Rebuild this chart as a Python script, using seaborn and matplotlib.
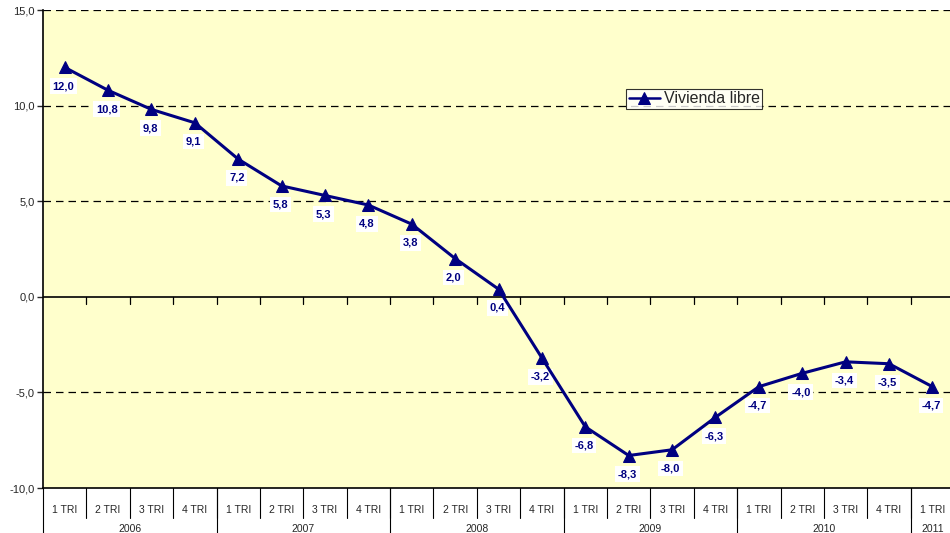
import numpy as np
import pandas as pd
import matplotlib
matplotlib.use("Agg")
import matplotlib.pyplot as plt
import seaborn as sns

# Data
quarters = ["1 TRI", "2 TRI", "3 TRI", "4 TRI"] * 5 + ["1 TRI"]
years = ["2006", "2007", "2008", "2009", "2010", "2011"]
year_counts = [4, 4, 4, 4, 4, 1]
values = [12.0, 10.8, 9.8, 9.1, 7.2, 5.8, 5.3, 4.8, 3.8, 2.0, 0.4, -3.2,
          -6.8, -8.3, -8.0, -6.3, -4.7, -4.0, -3.4, -3.5, -4.7]

df = pd.DataFrame({"pos": np.arange(len(values)), "valor": values})

sns.set_style("white")
plt.rcParams["font.family"] = ["Liberation Sans", "DejaVu Sans"]

navy = "#000080"
fig = plt.figure(figsize=(9.5, 5.33), dpi=100)
ax = fig.add_axes([0.0453, 0.0844, 0.959, 0.8968])
ax.set_facecolor("#FFFFCC")

sns.lineplot(data=df, x="pos", y="valor", ax=ax, color=navy, linewidth=2.2,
             marker="^", markersize=9, markeredgecolor=navy, label="Vivienda libre",
             zorder=3)

# data labels (drawn under the line)
for i, v in enumerate(values):
    ax.annotate(f"{v:.1f}".replace(".", ","), (i, v), xytext=(-1, -13.5),
                textcoords="offset points", ha="center", va="center",
                fontsize=8, fontweight="bold", color=navy, zorder=2,
                bbox=dict(boxstyle="square,pad=0.25", fc="white", ec="none"))

ax.set_xlim(-0.5, len(values) - 0.5)
ax.set_ylim(-10, 15)
ax.set_yticks([-10, -5, 0, 5, 10, 15])
ax.set_yticklabels([f"{t:.1f}".replace(".", ",") for t in [-10, -5, 0, 5, 10, 15]], fontsize=8)
ax.tick_params(axis="y", length=4, width=1, direction="out", left=True, pad=2)
for t in [-5, 5, 10, 15]:
    ax.axhline(t, color="black", linestyle=(0, (6, 4)), linewidth=0.9, zorder=1)

# zero axis with tick marks
ax.axhline(0, color="black", linewidth=1.2, zorder=1)
for b in np.arange(0.5, len(values) - 0.5, 1):
    ax.plot([b, b], [0, -0.35], color="black", linewidth=0.9, zorder=1)

for s in ["top", "right"]:
    ax.spines[s].set_visible(False)
ax.spines["left"].set_color("black")
ax.spines["bottom"].set_color("black")
ax.spines["left"].set_linewidth(1.2)
ax.spines["bottom"].set_linewidth(1.2)
ax.set_xticks([])
ax.set_xlabel("")
ax.set_ylabel("")

# two-level category labels
trans = ax.get_xaxis_transform()
for i, q in enumerate(quarters):
    ax.text(i, -0.045, q, transform=trans, ha="center", va="center", fontsize=7.5)
for b in np.arange(0.5, len(values) - 0.5, 1):
    ax.plot([b, b], [0, -0.063], transform=trans, color="black", linewidth=0.8, clip_on=False)
start = 0
edges = [-0.5]
for y, c in zip(years, year_counts):
    ax.text(start + (c - 1) / 2, -0.085, y, transform=trans, ha="center", va="center", fontsize=7.5)
    start += c
    edges.append(start - 0.5)
for e in edges[:-1]:
    ax.plot([e, e], [0, -0.12], transform=trans, color="black", linewidth=0.8, clip_on=False)

leg = ax.legend(loc="upper left", bbox_to_anchor=(0.64, 0.835), fontsize=11.5,
                frameon=True, fancybox=False, edgecolor="black", handlelength=2,
                borderpad=0.15, handletextpad=0.2, borderaxespad=0)
leg.get_frame().set_linewidth(0.8)
leg.set_zorder(5)
for h in leg.get_lines():
    h.set_linewidth(1.8)
    h.set_markersize(8)

fig.savefig("out.png", dpi=100, facecolor="white")
